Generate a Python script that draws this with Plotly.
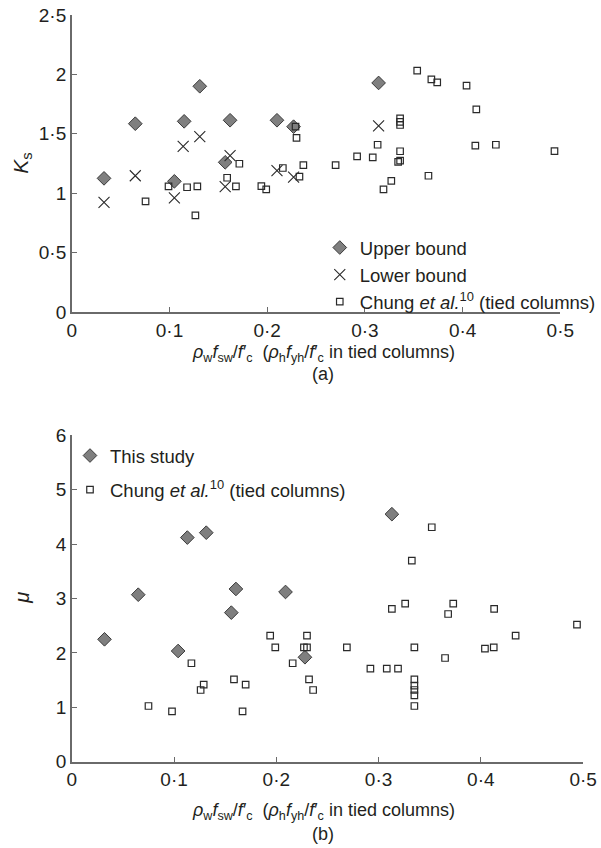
import plotly.graph_objects as go

W, H = 601, 848

# ---------------- Data: panel (a) ----------------
upper_x = [0.033, 0.065, 0.105, 0.115, 0.131, 0.157, 0.162, 0.210, 0.227, 0.314]
upper_y = [1.125, 1.585, 1.10, 1.605, 1.90, 1.26, 1.614, 1.614, 1.56, 1.928]

lower_x = [0.033, 0.065, 0.105, 0.114, 0.131, 0.157, 0.162, 0.210, 0.227, 0.314]
lower_y = [0.923, 1.147, 0.96, 1.395, 1.476, 1.055, 1.316, 1.19, 1.136, 1.566]

chung_a_x = [0.0755, 0.099, 0.118, 0.1285, 0.1265, 0.159, 0.168, 0.1715, 0.194, 0.199,
             0.216, 0.230, 0.229, 0.233, 0.237, 0.270, 0.292, 0.308, 0.313, 0.319,
             0.327, 0.334, 0.336, 0.336, 0.336, 0.336, 0.336, 0.3535, 0.368, 0.374,
             0.365, 0.404, 0.414, 0.413, 0.434, 0.494]
chung_a_y = [0.932, 1.058, 1.05, 1.058, 0.814, 1.13, 1.058, 1.248, 1.06, 1.033,
             1.212, 1.465, 1.56, 1.139, 1.237, 1.237, 1.31, 1.302, 1.408, 1.033,
             1.103, 1.263, 1.274, 1.353, 1.63, 1.60, 1.574, 2.031, 1.958, 1.933,
             1.147, 1.905, 1.706, 1.40, 1.408, 1.355]

# ---------------- Data: panel (b) ----------------
study_x = [0.032, 0.065, 0.104, 0.113, 0.1315, 0.156, 0.1605, 0.209, 0.228, 0.313]
study_y = [2.25, 3.07, 2.035, 4.12, 4.21, 2.74, 3.175, 3.12, 1.92, 4.55]

chung_b_x = [0.075, 0.098, 0.117, 0.126, 0.129, 0.1586, 0.170, 0.167, 0.194, 0.199,
             0.216, 0.230, 0.227, 0.230, 0.232, 0.236, 0.269, 0.292, 0.308, 0.319,
             0.313, 0.326, 0.3325, 0.335, 0.335, 0.335, 0.335, 0.335, 0.335, 0.352,
             0.365, 0.368, 0.373, 0.404, 0.4126, 0.413, 0.434, 0.494]
chung_b_y = [1.024, 0.926, 1.81, 1.318, 1.415, 1.515, 1.415, 0.926, 2.316, 2.10,
             1.81, 2.316, 2.10, 2.10, 1.515, 1.318, 2.10, 1.71, 1.71, 1.71,
             2.81, 2.905, 3.695, 2.10, 1.515, 1.40, 1.318, 1.22, 1.024, 4.31,
             1.906, 2.715, 2.905, 2.077, 2.10, 2.81, 2.316, 2.52]

x_tickvals = [0, 0.1, 0.2, 0.3, 0.4, 0.5]
x_ticktext = ["0", "0·1", "0·2", "0·3", "0·4", "0·5"]
ya_tickvals = [0, 0.5, 1, 1.5, 2, 2.5]
ya_ticktext = ["0", "0·5", "1", "1·5", "2", "2·5"]
yb_tickvals = [0, 1, 2, 3, 4, 5, 6]
yb_ticktext = ["0", "1", "2", "3", "4", "5", "6"]

TXT = "#231f20"
AX = "#6a6a6a"
FONT = "Liberation Sans, Arial, sans-serif"

diamond = dict(symbol="diamond", size=10.5, color="#7f7f7f", line=dict(color="#3a3a3a", width=1))
cross = dict(symbol="x-thin-open", size=11, color="#2a2a2a", line=dict(color="#2a2a2a", width=1.1))
square = dict(symbol="square-open", size=6.5, color="#2a2a2a", line=dict(color="#2a2a2a", width=1.2))

chung_name = "Chung <i>et al.</i><sup>10</sup> (tied columns)"

fig = go.Figure()
fig.add_trace(go.Scatter(x=upper_x, y=upper_y, mode="markers", marker=diamond, name="Upper bound",
                         xaxis="x", yaxis="y", legend="legend", cliponaxis=False))
fig.add_trace(go.Scatter(x=lower_x, y=lower_y, mode="markers", marker=cross, name="Lower bound",
                         xaxis="x", yaxis="y", legend="legend", cliponaxis=False))
fig.add_trace(go.Scatter(x=chung_a_x, y=chung_a_y, mode="markers", marker=square, name=chung_name,
                         xaxis="x", yaxis="y", legend="legend", cliponaxis=False))
fig.add_trace(go.Scatter(x=study_x, y=study_y, mode="markers", marker=diamond, name="This study",
                         xaxis="x2", yaxis="y2", legend="legend2", legendgroup="s", cliponaxis=False))
fig.add_trace(go.Scatter(x=chung_b_x, y=chung_b_y, mode="markers", marker=square, name=chung_name,
                         xaxis="x2", yaxis="y2", legend="legend2", legendgroup="c", cliponaxis=False))

def px_x(p):
    return p / W

def px_y(p):
    return 1 - p / H

axis_common = dict(showgrid=False, zeroline=False, showline=True, linecolor=AX, linewidth=1.5,
                   ticks="inside", ticklen=5, tickwidth=1, tickcolor=AX,
                   tickfont=dict(family=FONT, size=19, color=TXT), automargin=False)

fig.update_layout(
    width=W, height=H,
    margin=dict(l=0, r=0, t=0, b=0),
    paper_bgcolor="white", plot_bgcolor="white",
    font=dict(family=FONT, color=TXT, size=18),
    xaxis=dict(domain=[px_x(72.5), px_x(566)], range=[0, 0.5], anchor="y",
               tickvals=x_tickvals, ticktext=x_ticktext, **axis_common),
    yaxis=dict(domain=[px_y(312), px_y(15)], range=[0, 2.5], anchor="x",
               tickvals=ya_tickvals, ticktext=ya_ticktext, **axis_common),
    xaxis2=dict(domain=[px_x(72.5), px_x(589)], range=[0, 0.5], anchor="y2",
                tickvals=x_tickvals, ticktext=x_ticktext, **axis_common),
    yaxis2=dict(domain=[px_y(761.7), px_y(435.3)], range=[0, 6], anchor="x2",
                tickvals=yb_tickvals, ticktext=yb_ticktext, **axis_common),
    legend=dict(x=px_x(323), y=px_y(229), xanchor="left", yanchor="top",
                bgcolor="rgba(0,0,0,0)", font=dict(family=FONT, size=18.5, color=TXT),
                itemwidth=30, tracegroupgap=0),
    legend2=dict(x=px_x(70.7), y=px_y(437), xanchor="left", yanchor="top",
                 bgcolor="rgba(0,0,0,0)", font=dict(family=FONT, size=18.5, color=TXT),
                 itemwidth=30, traceorder="grouped", tracegroupgap=7),
)

xtitle = ("<i>ρ</i><sub>w</sub><i>f</i><sub>sw</sub>/<i>f</i>′<sub>c</sub>  "
          "(<i>ρ</i><sub>h</sub><i>f</i><sub>yh</sub>/<i>f</i>′<sub>c</sub> in tied columns)")

ann = [
    dict(text=xtitle, x=px_x(327), y=px_y(353), xref="paper", yref="paper", showarrow=False,
         xanchor="center", yanchor="middle", font=dict(family=FONT, size=18, color=TXT)),
    dict(text="(a)", x=px_x(326), y=px_y(374), xref="paper", yref="paper", showarrow=False,
         xanchor="center", yanchor="middle", font=dict(family=FONT, size=18, color=TXT)),
    dict(text=xtitle, x=px_x(327), y=px_y(811), xref="paper", yref="paper", showarrow=False,
         xanchor="center", yanchor="middle", font=dict(family=FONT, size=18, color=TXT)),
    dict(text="(b)", x=px_x(326), y=px_y(834), xref="paper", yref="paper", showarrow=False,
         xanchor="center", yanchor="middle", font=dict(family=FONT, size=18, color=TXT)),
    dict(text="<i>K</i><sub>s</sub>", x=px_x(22), y=px_y(163), xref="paper", yref="paper",
         showarrow=False, textangle=-90, xanchor="center", yanchor="middle",
         font=dict(family=FONT, size=21, color=TXT)),
    dict(text="<i>μ</i>", x=px_x(22), y=px_y(598), xref="paper", yref="paper",
         showarrow=False, textangle=-90, xanchor="center", yanchor="middle",
         font=dict(family=FONT, size=20, color=TXT)),
]
fig.update_layout(annotations=ann)

fig.write_html("out.html")
